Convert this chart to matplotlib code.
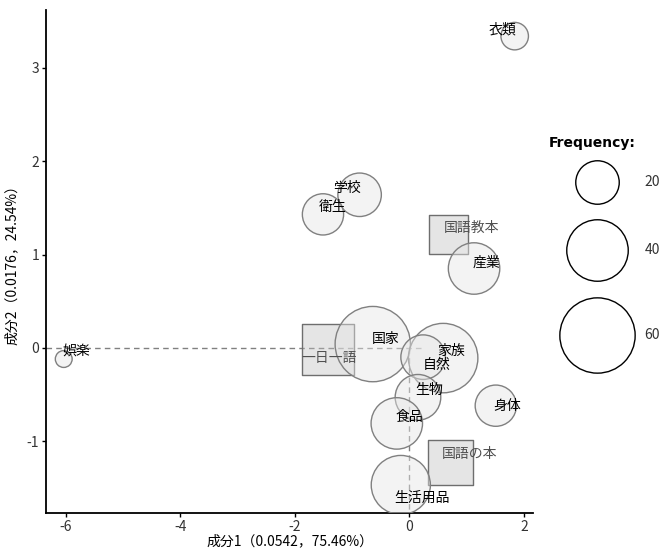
import numpy as np
import matplotlib.pyplot as plt

plt.rcParams['font.family'] = ['Noto Sans CJK JP', 'DejaVu Sans']
plt.rcParams['axes.unicode_minus'] = False

# 語（円）
words = ["娯楽", "衣類", "学校", "衛生", "産業", "国家", "家族",
         "自然", "生物", "食品", "身体", "生活用品"]
word_x = np.array([-6.04, 1.84, -0.87, -1.51, 1.13, -0.64, 0.59,
                   0.24, 0.15, -0.22, 1.51, -0.15])
word_y = np.array([-0.12, 3.34, 1.64, 1.43, 0.85, 0.04, -0.11,
                   -0.10, -0.53, -0.81, -0.62, -1.47])
word_freq = np.array([3, 8, 20, 18, 28, 60, 51, 21, 22, 28, 18, 37])

# 外部変数（四角）
books = ["国語教本", "一日一語", "国語の本"]
book_x = np.array([0.68, -1.42, 0.72])
book_y = np.array([1.21, -0.02, -1.23])
book_freq = np.array([16, 28, 21])

legend_freq = [20, 40, 60]

# ラベルのずらし量（ポイント）
word_off = [(9, 5), (-9, 5), (-9, 5), (7, 5), (9, 4), (9, 4), (6, 5),
            (10, -6), (8, 5), (9, 5), (8, 0), (15, -9)]
book_off = [(17, 5), (1, -6), (14, 6)]

K = 49  # s = K * freq


def main():
    fig = plt.figure(figsize=(6.66, 5.5), dpi=100)
    ax = fig.add_axes([46 / 666, 1 - 513 / 550, 487 / 666, 503 / 550])

    ax.set_xlim(-6.35, 2.16)
    ax.set_ylim(-1.77, 3.62)

    ax.plot([-6.35, 0.27], [0, 0], ls=(0, (4, 3)), color="#808080", lw=1, zorder=1)
    ax.plot([0, 0], [0, -1.77], ls=(0, (4, 3)), color="#808080", lw=1, zorder=1)

    ax.scatter(book_x, book_y, s=K * book_freq, marker="s",
               facecolor=(0.75, 0.75, 0.75, 0.4), edgecolor="#6e6e6e",
               linewidth=1, zorder=2)
    ax.scatter(word_x, word_y, s=K * word_freq, marker="o",
               facecolor=(0.9, 0.9, 0.9, 0.45), edgecolor="#808080",
               linewidth=1, zorder=3)

    for name, x, y, off in zip(words, word_x, word_y, word_off):
        ax.annotate(name, (x, y), xytext=off, textcoords="offset points",
                    ha="center", va="center", fontsize=10, color="black", zorder=5)
    for name, x, y, off in zip(books, book_x, book_y, book_off):
        ax.annotate(name, (x, y), xytext=off, textcoords="offset points",
                    ha="center", va="center", fontsize=10, color="#505050", zorder=5)

    for side in ["top", "right"]:
        ax.spines[side].set_visible(False)
    for side in ["left", "bottom"]:
        ax.spines[side].set_linewidth(1.3)
    ax.set_xticks([-6, -4, -2, 0, 2])
    ax.set_yticks([-1, 0, 1, 2, 3])
    ax.tick_params(length=3, width=1, labelsize=10, labelcolor="#333333", pad=2)
    ax.set_xlabel("成分1（0.0542，75.46%）", fontsize=10)
    ax.xaxis.set_label_coords(0.5, -0.042, transform=ax.transAxes)
    ax.xaxis.label.set_va("top")
    ax.set_ylabel("成分2（0.0176，24.54%）", fontsize=10)
    ax.yaxis.set_label_coords(-0.07, 0.5, transform=ax.transAxes)
    ax.yaxis.label.set_va("center")

    # 凡例: 1単位 = 1ピクセル
    lax = fig.add_axes([549 / 666, 1 - 400 / 550, 117 / 666, 280 / 550])
    lax.set_xlim(0, 117)
    lax.set_ylim(280, 0)
    lax.axis("off")
    lax.text(0, 23, "Frequency:", fontsize=10, fontweight="bold",
             family=["DejaVu Sans"], ha="left", va="center")
    top = 40
    for f in legend_freq:
        r = np.sqrt(K * f) / 0.72 / 2
        cy = top + r
        lax.scatter([48], [cy], s=K * f, facecolor="white", edgecolor="black",
                    linewidth=1, clip_on=False)
        lax.text(103, cy, str(f), fontsize=10, ha="center", va="center",
                 color="#333333")
        top = cy + r + 16

    fig.savefig("out.png", dpi=100)


if __name__ == "__main__":
    main()
